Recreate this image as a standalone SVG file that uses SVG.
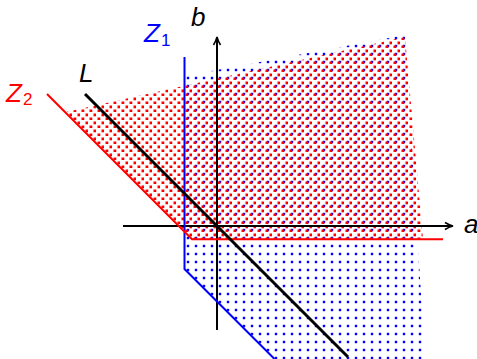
<svg xmlns="http://www.w3.org/2000/svg" width="477" height="359" viewBox="0 0 477 359">
<style>
.lbl{font-family:"Liberation Sans",Arial,sans-serif;font-style:italic;font-size:26px}
.sub{font-family:"Liberation Sans",Arial,sans-serif;font-size:17px}
.ax{stroke:#000;stroke-width:2;fill:none}
</style>
<defs>
<pattern id="bluedots" patternUnits="userSpaceOnUse" width="8" height="8">
<rect x="2.8" y="4.8" width="2.4" height="2.4" fill="#0000ff"/>
</pattern>
<pattern id="reddots" patternUnits="userSpaceOnUse" width="8" height="8">
<rect x="5.5" y="1.5" width="2.8" height="2.8" fill="#ff0000"/>
<rect x="1.5" y="5.5" width="2.8" height="2.8" fill="#ff0000"/>
</pattern>
<marker id="arr" viewBox="0 0 10 10" refX="8" refY="5" markerWidth="10" markerHeight="10" markerUnits="userSpaceOnUse" orient="auto">
<path d="M1,1.5 Q5,4 9,5 Q5,6 1,8.5" fill="none" stroke="#000" stroke-width="1.6"/>
</marker>
</defs>
<g id="regions">
<polygon id="blue-region" points="184.5,76 405,35 425,359 274,359 184.5,269" fill="url(#bluedots)"/>
<polygon id="red-region" points="66,112 405,37 423,239 192,239" fill="url(#reddots)"/>
</g>
<g id="connectors">
<line class="ax" x1="123" y1="226" x2="452" y2="226" marker-end="url(#arr)"/>
<line class="ax" x1="217" y1="330" x2="217" y2="38" marker-end="url(#arr)"/>
</g>
<g id="Z1">
<polyline points="184.5,57 184.5,269 274.5,359" fill="none" stroke="#0000ff" stroke-width="2"/>
<text class="lbl" x="144" y="42" fill="#0000ff">Z</text><text class="sub" x="161" y="46" fill="#0000ff">1</text>
</g>
<g id="Z2">
<polyline points="47,94 192,239.3 443,239.3" fill="none" stroke="#ff0000" stroke-width="2"/>
<text class="lbl" x="6" y="102" fill="#ff0000">Z</text><text class="sub" x="23" y="105" fill="#ff0000">2</text>
</g>
<g id="L">
<line x1="85" y1="94" x2="348" y2="357" stroke="#000" stroke-width="3"/>
<text class="lbl" x="79" y="82" fill="#000">L</text>
</g>
<g id="axis-labels">
<text class="lbl" x="191" y="26" fill="#000">b</text>
<text class="lbl" x="464" y="233" fill="#000">a</text>
</g>
</svg>
